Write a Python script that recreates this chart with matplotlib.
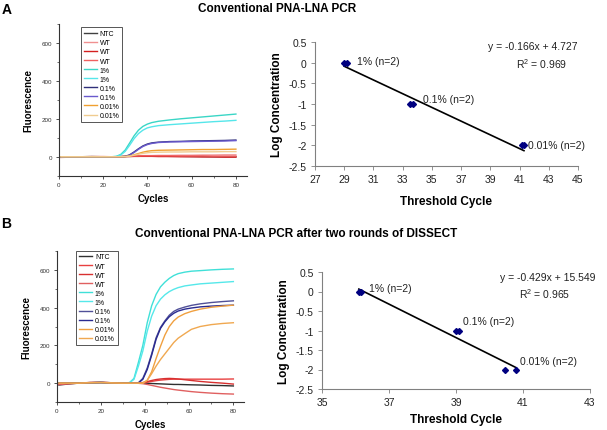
import matplotlib
matplotlib.use('Agg')
import matplotlib.pyplot as plt
from matplotlib.ticker import MultipleLocator, FuncFormatter

plt.rcParams['font.family'] = ['Liberation Sans', 'DejaVu Sans']

labels = ['NTC', 'WT', 'WT', 'WT', '1%', '1%', '0.1%', '0.1%', '0.01%', '0.01%']

# --- panel A, amplification curves ---
cycles_a = [1, 5, 10, 15, 20, 24, 26, 28, 30, 32, 34, 36, 38, 40, 42, 45, 50, 55, 60, 65, 70, 75, 80]
ntc_a = [-3, -2, 0, 1, 0, -1, 0, 1, 1, 2, 2, 2, 3, 3, 3, 3, 2, 2, 1, 1, 0, 0, 0]
wt1_a = [-4, -2, -1, 0, 0, 0, 0, 1, 2, 3, 4, 5, 6, 6, 6, 7, 7, 8, 8, 9, 9, 10, 10]
wt2_a = [-2, -1, 0, 0, 0, 0, 0, 0, 1, 1, 2, 2, 2, 2, 2, 1, 1, 0, 0, -1, -1, -2, -2]
wt3_a = [-3, -1, 0, 1, 1, 0, 0, 1, 2, 3, 4, 4, 5, 5, 5, 5, 5, 4, 4, 4, 3, 3, 3]
p1a_a = [0, 0, 0, 0, 0, 0, 2, 12, 35, 72, 110, 140, 160, 172, 180, 187, 194, 200, 205, 210, 215, 220, 225]
p1b_a = [0, 0, 0, 0, 0, 0, 1, 9, 28, 60, 95, 122, 140, 152, 158, 164, 169, 173, 177, 181, 185, 188, 192]
p01a_a = [0, 0, 0, 0, 0, 0, 0, 0, 2, 10, 25, 42, 57, 67, 73, 77, 80, 81, 83, 84, 85, 86, 88]
p01b_a = [0, 0, 0, 0, 0, 0, 0, 0, 1, 8, 22, 39, 54, 64, 70, 75, 78, 79, 80, 81, 82, 83, 85]
p001a_a = [0, 0, 0, 0, 0, 0, 0, 0, 1, 4, 10, 17, 24, 29, 32, 34, 35, 36, 37, 38, 38, 39, 40]
p001b_a = [0, 0, 0, 0, 0, 0, 0, 0, 1, 3, 8, 13, 18, 21, 23, 24, 25, 25, 26, 26, 26, 27, 27]
colors_a = ['#404040', '#f09090', '#d42020', '#f06060', '#3ad6c6', '#55e6ea',
            '#30307a', '#6a5acd', '#f0a030', '#f0cc90']

# --- panel B, amplification curves ---
cycles_b = [1, 5, 10, 15, 20, 25, 30, 33, 35, 37, 39, 41, 43, 45, 47, 49, 51, 53, 55, 58, 61, 65, 70, 75, 80]
ntc_b = [-10, -5, 0, 3, 4, 2, 1, 0, 0, 0, 0, -1, -2, -3, -4, -5, -6, -7, -7, -8, -9, -10, -12, -13, -15]
wt1_b = [-5, -2, 0, 2, 3, 2, 1, 0, 0, 0, 2, 5, 9, 13, 16, 18, 20, 21, 21, 21, 21, 21, 21, 21, 22]
wt2_b = [-3, -1, 1, 3, 4, 2, 1, 0, 0, 1, 3, 8, 14, 19, 22, 24, 25, 24, 22, 18, 14, 9, 4, 0, -5]
wt3_b = [-8, -4, 0, 3, 4, 2, 1, 0, 0, -1, -3, -7, -12, -17, -22, -26, -30, -34, -37, -41, -45, -49, -53, -56, -58]
p1a_b = [0, 0, 0, 2, 3, 1, 0, 3, 25, 110, 200, 320, 410, 470, 510, 535, 555, 570, 580, 588, 593, 596, 600, 603, 605]
p1b_b = [0, 0, 0, 2, 3, 1, 0, 2, 20, 90, 170, 275, 355, 410, 445, 468, 485, 497, 506, 515, 520, 526, 530, 534, 538]
p01a_b = [0, 0, 0, 2, 3, 1, 0, 0, 0, 2, 25, 80, 155, 240, 295, 330, 360, 380, 392, 403, 412, 420, 427, 432, 436]
p01b_b = [0, 0, 0, 2, 3, 1, 0, 0, 0, 1, 20, 72, 148, 232, 290, 325, 352, 370, 382, 392, 398, 404, 408, 411, 413]
p001a_b = [0, 0, 0, 2, 3, 1, 0, 0, 0, 0, 0, 15, 60, 130, 195, 255, 300, 330, 350, 368, 380, 392, 402, 408, 413]
p001b_b = [0, 0, 0, 2, 3, 1, 0, 0, 0, 0, 0, 15, 50, 90, 125, 155, 185, 215, 238, 262, 285, 300, 310, 316, 320]
colors_b = ['#303030', '#e84040', '#d83030', '#e06060', '#40e0d8', '#55e8ea',
            '#505098', '#2a2a90', '#f0a040', '#f0a850']

# --- standard curves ---
ct_a = [29.0, 29.2, 33.5, 33.7, 41.2, 41.3]
logc_a = [0, 0, -1, -1, -2, -2]
slope_a, icpt_a, r2_a = -0.166, 4.727, 0.969
xticks_a = [27, 29, 31, 33, 35, 37, 39, 41, 43, 45]
ct_b = [36.1, 36.15, 39.0, 39.1, 40.45, 40.8]
logc_b = [0, 0, -1, -1, -2, -2]
slope_b, icpt_b, r2_b = -0.429, 15.549, 0.965
xticks_b = [35, 37, 39, 41, 43]
yticks_std = [0.5, 0, -0.5, -1, -1.5, -2, -2.5]
group_labels = ['1% (n=2)', '0.1% (n=2)', '0.01% (n=2)']

fig = plt.figure(figsize=(6.07, 4.31), dpi=100)
W, H = 607.0, 431.0


def px_axes(x0, y0, x1, y1):
    return fig.add_axes([x0 / W, 1 - y1 / H, (x1 - x0) / W, (y1 - y0) / H])


def amp_panel(ax, cyc, series, colors, legend_box):
    for s, c, lab in zip(series, colors, labels):
        ax.plot(cyc, s, color=c, lw=1.0, label=lab)
    ax.set_xlim(0, 85)
    ax.set_ylim(-100, 700)
    ax.xaxis.set_major_locator(MultipleLocator(20))
    ax.xaxis.set_minor_locator(MultipleLocator(10))
    ax.yaxis.set_minor_locator(MultipleLocator(100))
    ax.set_yticks([0, 200, 400, 600])
    for sp in ['top', 'right']:
        ax.spines[sp].set_visible(False)
    for sp in ['left', 'bottom']:
        ax.spines[sp].set_linewidth(0.8)
        ax.spines[sp].set_color('#333333')
    ax.tick_params(which='major', labelsize=4.5, length=2.5, width=0.6, colors='#333333', pad=2)
    ax.tick_params(which='minor', length=1.5, width=0.5, colors='#333333')
    ax.set_xlabel('Cycles', fontsize=7, fontweight='bold', labelpad=4)
    ax.set_ylabel('Fluorescence', fontsize=7, fontweight='bold', labelpad=6)
    leg = ax.legend(loc='upper left', bbox_to_anchor=legend_box, fontsize=5,
                    handlelength=1.9, handletextpad=0.4, labelspacing=0.3,
                    borderpad=0.4, fancybox=False, framealpha=1)
    leg.get_frame().set_edgecolor('#555555')
    leg.get_frame().set_linewidth(0.7)


def std_panel(ax, ct, logc, slope, icpt, r2, xlim, xticks, ann, eq_pos, r2_pos, xpad):
    ax.plot(ct, logc, 'D', color='#000080', ms=3.0, zorder=3)
    xs = [min(ct), max(ct)]
    ax.plot(xs, [slope * x + icpt for x in xs], color='black', lw=1.2, zorder=2)
    ax.set_xlim(*xlim)
    ax.set_ylim(-2.5, 0.5)
    ax.set_xticks(xticks)
    ax.set_yticks(yticks_std)
    ax.yaxis.set_major_formatter(FuncFormatter(lambda v, p: '%g' % v if abs(v) > 1e-9 else '0'))
    for sp in ['top', 'right']:
        ax.spines[sp].set_visible(False)
    for sp in ['left', 'bottom']:
        ax.spines[sp].set_color('#808080')
        ax.spines[sp].set_linewidth(0.8)
    ax.tick_params(labelsize=7.5, length=3, width=0.6, color='#808080', labelcolor='#222222', pad=3)
    ax.set_xlabel('Threshold Cycle', fontsize=8.5, fontweight='bold', labelpad=xpad)
    ax.set_ylabel('Log Concentration', fontsize=8.5, fontweight='bold', labelpad=4)
    for lab, (x, y) in zip(group_labels, ann):
        ax.text(x, y, lab, fontsize=7.5, color='#222222', va='center', ha='left')
    ax.text(eq_pos[0], eq_pos[1], 'y = %.3fx + %.3f' % (slope, icpt), fontsize=7.5,
            color='#222222', ha='right', va='center')
    ax.text(r2_pos[0], r2_pos[1], '$\\mathregular{R^2}$ = %.3f' % r2,
            fontsize=7.5, color='#222222', ha='right', va='center')


# Panel A
fig.text(0.002, 0.992, 'A', fontsize=10, fontweight='bold', ha='left', va='top')
fig.text(277 / W, 1 - 9 / H, 'Conventional PNA-LNA PCR', fontsize=8.5, fontweight='bold',
         ha='center', va='center')
ax1 = px_axes(58.7, 25, 247, 176.7)
amp_panel(ax1, cycles_a, [ntc_a, wt1_a, wt2_a, wt3_a, p1a_a, p1b_a, p01a_a, p01b_a, p001a_a, p001b_a],
          colors_a, (0.1, 1.0))
ax2 = px_axes(315, 43, 578, 167)
std_panel(ax2, ct_a, logc_a, slope_a, icpt_a, r2_a, (27, 45), xticks_a,
          [(29.9, 0.03), (34.4, -0.88), (41.6, -2.0)], (45.0, 0.41), (44.3, 0.0), 8)

# Panel B
fig.text(0.002, 1 - 217 / H, 'B', fontsize=10, fontweight='bold', ha='left', va='top')
fig.text(296 / W, 1 - 234 / H, 'Conventional PNA-LNA PCR after two rounds of DISSECT', fontsize=8.5,
         fontweight='bold', ha='center', va='center')
ax3 = px_axes(56.7, 252, 244.4, 403)
amp_panel(ax3, cycles_b, [ntc_b, wt1_b, wt2_b, wt3_b, p1a_b, p1b_b, p01a_b, p01b_b, p001a_b, p001b_b],
          colors_b, (0.085, 1.025))
ax4 = px_axes(322, 273, 590, 390)
std_panel(ax4, ct_b, logc_b, slope_b, icpt_b, r2_b, (35, 43), xticks_b,
          [(36.4, 0.08), (39.2, -0.76), (40.9, -1.78)], (43.15, 0.37), (42.4, -0.05), 4)

fig.savefig('out.png', dpi=100)
